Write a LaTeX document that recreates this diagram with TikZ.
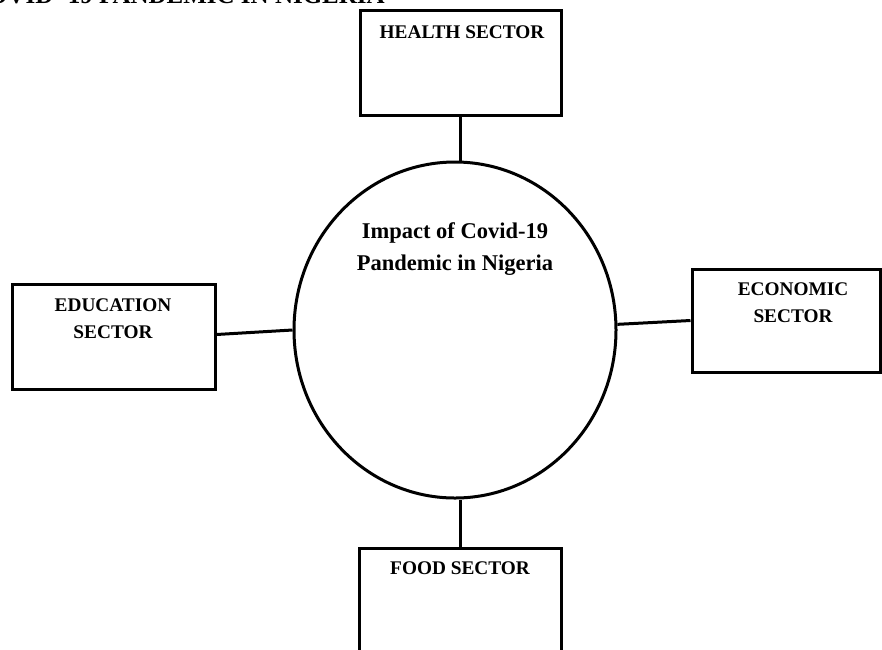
\documentclass[tikz,border=0pt]{standalone}
\usepackage{fontspec}
\setmainfont{Liberation Serif}
\usetikzlibrary{shapes.geometric}
\tikzset{
  sbox/.style={draw=black, line width=3pt, rectangle, inner sep=0pt, fill=white},
  circ/.style={draw=black, line width=3pt, ellipse, inner sep=0pt, minimum width=322, minimum height=336},
  conn/.style={draw=black, line width=3pt},
  boxtext/.style={align=center, inner sep=0pt, font=\fontsize{19.3}{27}\selectfont\bfseries},
  circtext/.style={align=center, inner sep=0pt, font=\fontsize{22.5}{32}\selectfont\bfseries},
  titletext/.style={inner sep=0pt, font=\fontsize{25}{30}\selectfont\bfseries}
}
\begin{document}
\begin{tikzpicture}[x=1pt,y=-1pt]
\useasboundingbox (0,0) rectangle (882,649);
\clip (0,0) rectangle (882,649);
% title (cut off at the top in the reference)
\node[titletext, anchor=base east] (title) at (385,3) {COVID -19 PANDEMIC IN NIGERIA};
% centre
\node[circ] (imp) at (455,330) {};
\node[circtext] (imptext) at (455,249) {Impact of Covid-19\\Pandemic in Nigeria};
% boxes
\node[sbox, minimum width=201, minimum height=105] (health) at (460.5,62.5) {};
\node[boxtext] (healthtext) at (462,32) {HEALTH SECTOR};
\node[sbox, minimum width=203, minimum height=105] (edu) at (113.5,336.5) {};
\node[boxtext] (edutext) at (113,318.5) {EDUCATION\\SECTOR};
\node[sbox, minimum width=188, minimum height=103] (econ) at (786,320.5) {};
\node[boxtext] (econtext) at (793,302.5) {ECONOMIC\\SECTOR};
\node[sbox, minimum width=202, minimum height=160] (food) at (460,628) {};
\node[boxtext] (foodtext) at (460,568) {FOOD SECTOR};
% connectors
\draw[conn] (health.south) -- (health.south |- imp.north);
\draw[conn] (food.north) -- (food.north |- imp.south);
\draw[conn] ([yshift=2pt]edu.east) -- (imp.west);
\draw[conn] (imp.2) -- (econ.west);
\end{tikzpicture}
\end{document}
